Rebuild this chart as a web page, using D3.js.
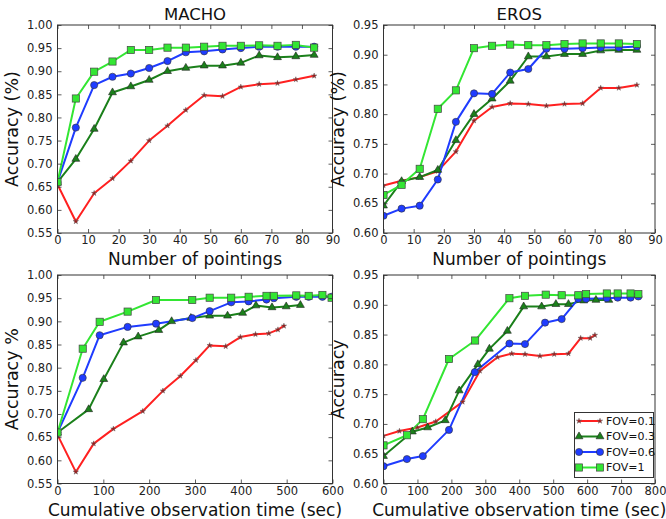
<!DOCTYPE html>
<html><head><meta charset="utf-8">
<script src="https://cdn.jsdelivr.net/npm/d3@7"></script>
<style>body{margin:0;background:#fff;} svg{display:block;font-family:"DejaVu Sans",sans-serif;}</style>
</head><body>
<svg id="chart" width="666" height="519"></svg>
<script>
// ---------- DATA ----------
const seriesNames = ["FOV=0.1", "FOV=0.3", "FOV=0.6", "FOV=1"];
const pointings = [0, 6, 12, 18, 24, 30, 36, 42, 48, 54, 60, 66, 72, 78, 84];

const machoAcc01 = [0.655, 0.575, 0.636, 0.668, 0.706, 0.750, 0.782, 0.816, 0.848, 0.846, 0.866, 0.872, 0.874, 0.882, 0.890];
const machoAcc03 = [0.660, 0.710, 0.775, 0.854, 0.867, 0.881, 0.900, 0.907, 0.912, 0.912, 0.918, 0.934, 0.930, 0.932, 0.935];
const machoAcc06 = [0.660, 0.778, 0.870, 0.888, 0.895, 0.907, 0.922, 0.941, 0.943, 0.947, 0.950, 0.953, 0.953, 0.953, 0.953];
const machoAcc1  = [0.660, 0.841, 0.899, 0.921, 0.946, 0.946, 0.951, 0.951, 0.953, 0.955, 0.955, 0.956, 0.955, 0.957, 0.951];

const erosAcc01 = [0.680, 0.688, 0.694, 0.704, 0.737, 0.789, 0.812, 0.818, 0.817, 0.814, 0.817, 0.818, 0.844, 0.844, 0.849];
const erosAcc03 = [0.646, 0.687, 0.694, 0.706, 0.756, 0.800, 0.826, 0.856, 0.897, 0.897, 0.901, 0.901, 0.907, 0.908, 0.908];
const erosAcc06 = [0.629, 0.641, 0.646, 0.690, 0.787, 0.835, 0.834, 0.870, 0.876, 0.910, 0.910, 0.911, 0.912, 0.912, 0.914];
const erosAcc1  = [0.664, 0.681, 0.708, 0.809, 0.840, 0.911, 0.915, 0.917, 0.916, 0.916, 0.918, 0.919, 0.919, 0.919, 0.918];

const machoTime01 = [0, 40, 79, 122, 186, 230, 268, 302, 332, 367, 399, 432, 461, 481, 494];
const machoTime03 = [0, 68, 101, 144, 176, 221, 249, 291, 332, 371, 404, 433, 468, 499, 530];
const machoTime06 = [0, 55, 92, 153, 215, 294, 332, 379, 417, 456, 472, 521, 548, 578, 598];
const machoTime1  = [0, 55, 92, 153, 215, 294, 332, 379, 417, 456, 472, 521, 548, 578, 598];

const erosTime01 = [0, 47, 100, 154, 233, 284, 336, 378, 417, 461, 503, 545, 581, 609, 623];
const erosTime03 = [0, 85, 130, 182, 223, 278, 312, 365, 413, 466, 508, 545, 590, 626, 664];
const erosTime06 = [0, 69, 116, 193, 269, 371, 417, 476, 525, 574, 597, 658, 690, 728, 751];
const erosTime1  = [0, 69, 116, 193, 270, 371, 417, 478, 525, 574, 597, 658, 690, 728, 751];

const machoAccTicks = [0.55, 0.60, 0.65, 0.70, 0.75, 0.80, 0.85, 0.90, 0.95, 1.00];
const erosAccTicks  = [0.60, 0.65, 0.70, 0.75, 0.80, 0.85, 0.90, 0.95];
const pointingTicks = [0, 10, 20, 30, 40, 50, 60, 70, 80, 90];
const machoTimeTicks = [0, 100, 200, 300, 400, 500, 600];
const erosTimeTicks  = [0, 100, 200, 300, 400, 500, 600, 700, 800];

// ---------- STYLE ----------
const colors = ["#ff2020", "#1b801b", "#1f3cff", "#33e633"];
const markers = ["star", "triangle", "circle", "square"];

const svg = d3.select("#chart");

const panels = [
  {id: "p1", x0: 57.5, x1: 332.5, y0: 25, y1: 233, xDom: [0, 90], yDom: [0.55, 1.0], xt: pointingTicks, yt: machoAccTicks,
   xs: [pointings, pointings, pointings, pointings], ys: [machoAcc01, machoAcc03, machoAcc06, machoAcc1],
   title: "MACHO", xlabel: "Number of pointings", ylabel: "Accuracy (%)", legend: false},
  {id: "p2", x0: 383.5, x1: 655, y0: 25, y1: 233, xDom: [0, 90], yDom: [0.60, 0.95], xt: pointingTicks, yt: erosAccTicks,
   xs: [pointings, pointings, pointings, pointings], ys: [erosAcc01, erosAcc03, erosAcc06, erosAcc1],
   title: "EROS", xlabel: "Number of pointings", ylabel: "Accuracy (%)", legend: false},
  {id: "p3", x0: 57.5, x1: 332.5, y0: 275, y1: 483.5, xDom: [0, 600], yDom: [0.55, 1.0], xt: machoTimeTicks, yt: machoAccTicks,
   xs: [machoTime01, machoTime03, machoTime06, machoTime1], ys: [machoAcc01, machoAcc03, machoAcc06, machoAcc1],
   title: null, xlabel: "Cumulative observation time (sec)", ylabel: "Accuracy %", legend: false},
  {id: "p4", x0: 383.5, x1: 655, y0: 275, y1: 483.5, xDom: [0, 800], yDom: [0.60, 0.95], xt: erosTimeTicks, yt: erosAccTicks,
   xs: [erosTime01, erosTime03, erosTime06, erosTime1], ys: [erosAcc01, erosAcc03, erosAcc06, erosAcc1],
   title: null, xlabel: "Cumulative observation time (sec)", ylabel: "Accuracy", legend: true}
];

function drawMarker(g, type, x, y, color) {
  if (type === "circle") {
    g.append("circle").attr("cx", x).attr("cy", y).attr("r", 3.6)
      .attr("fill", color).attr("stroke", "#333").attr("stroke-width", 0.6);
  } else if (type === "square") {
    g.append("rect").attr("x", x - 3.6).attr("y", y - 3.6).attr("width", 7.2).attr("height", 7.2)
      .attr("fill", color).attr("stroke", "#444").attr("stroke-width", 0.7);
  } else if (type === "triangle") {
    g.append("path").attr("d", d3.symbol(d3.symbolTriangle, 27)()).attr("transform", `translate(${x},${y})`)
      .attr("fill", color).attr("stroke", "#222").attr("stroke-width", 0.6);
  } else {
    g.append("path").attr("d", d3.symbol(d3.symbolStar, 9)()).attr("transform", `translate(${x},${y})`)
      .attr("fill", "#a01818").attr("stroke", "#666").attr("stroke-width", 0.5);
  }
}

panels.forEach(p => {
  const x = d3.scaleLinear().domain(p.xDom).range([p.x0, p.x1]);
  const y = d3.scaleLinear().domain(p.yDom).range([p.y1, p.y0]);

  svg.append("clipPath").attr("id", "clip-" + p.id)
    .append("rect").attr("x", p.x0).attr("y", p.y0).attr("width", p.x1 - p.x0).attr("height", p.y1 - p.y0);

  const data = svg.append("g").attr("clip-path", `url(#clip-${p.id})`);
  const line = d3.line();
  p.ys.forEach((ys, i) => {
    const xs = p.xs[i];
    const pts = ys.map((v, j) => [x(xs[j]), y(v)]);
    data.append("path").attr("d", line(pts)).attr("fill", "none")
      .attr("stroke", colors[i]).attr("stroke-width", 2).attr("stroke-linejoin", "round");
  });
  p.ys.forEach((ys, i) => {
    const xs = p.xs[i];
    ys.forEach((v, j) => drawMarker(data, markers[i], x(xs[j]), y(v), colors[i]));
  });

  // axes
  const tickCol = "#222";
  const gB = svg.append("g").attr("transform", `translate(0,${p.y1})`)
    .call(d3.axisBottom(x).tickValues(p.xt).tickFormat(d3.format("d")).tickSizeInner(-4).tickSizeOuter(0).tickPadding(3));
  const gL = svg.append("g").attr("transform", `translate(${p.x0},0)`)
    .call(d3.axisLeft(y).tickValues(p.yt).tickFormat(d3.format(".2f")).tickSizeInner(-4).tickSizeOuter(0).tickPadding(5));
  const gT = svg.append("g").attr("transform", `translate(0,${p.y0})`)
    .call(d3.axisTop(x).tickValues(p.xt).tickFormat("").tickSizeInner(-4).tickSizeOuter(0));
  const gR = svg.append("g").attr("transform", `translate(${p.x1},0)`)
    .call(d3.axisRight(y).tickValues(p.yt).tickFormat("").tickSizeInner(-4).tickSizeOuter(0));
  [gB, gL, gT, gR].forEach(g => {
    g.select(".domain").remove();
    g.selectAll(".tick line").attr("stroke", "#333").attr("stroke-width", 0.8);
    g.selectAll(".tick text").attr("fill", tickCol).attr("font-size", 11.5).attr("font-family", "DejaVu Sans");
  });

  svg.append("rect").attr("x", p.x0).attr("y", p.y0).attr("width", p.x1 - p.x0).attr("height", p.y1 - p.y0)
    .attr("fill", "none").attr("stroke", "#333").attr("stroke-width", 1);

  const cx = (p.x0 + p.x1) / 2, cy = (p.y0 + p.y1) / 2;
  if (p.title) {
    svg.append("text").attr("x", cx).attr("y", p.y0 - 5).attr("text-anchor", "middle")
      .attr("font-size", 16.5).attr("fill", "#111").text(p.title);
  }
  svg.append("text").attr("x", cx).attr("y", p.y1 + 32).attr("text-anchor", "middle")
    .attr("font-size", 17).attr("fill", "#111").text(p.xlabel);
  const lx = p.x0 - 39.5;
  svg.append("text").attr("transform", `translate(${lx},${cy}) rotate(-90)`).attr("text-anchor", "middle")
    .attr("font-size", 17.5).attr("fill", "#111").text(p.ylabel);

  if (p.legend) {
    const lg = svg.append("g");
    lg.append("rect").attr("x", 574.5).attr("y", 412.5).attr("width", 79).attr("height", 65)
      .attr("fill", "#fff").attr("stroke", "#333").attr("stroke-width", 1);
    seriesNames.forEach((name, i) => {
      const yy = 421 + i * 15.5;
      lg.append("line").attr("x1", 579).attr("x2", 600).attr("y1", yy).attr("y2", yy)
        .attr("stroke", colors[i]).attr("stroke-width", 2);
      drawMarker(lg, markers[i], 579, yy, colors[i]);
      drawMarker(lg, markers[i], 600, yy, colors[i]);
      lg.append("text").attr("x", 606).attr("y", yy).attr("dy", "0.35em")
        .attr("font-size", 11).attr("fill", "#111").text(name);
    });
  }
});
</script>
</body></html>
